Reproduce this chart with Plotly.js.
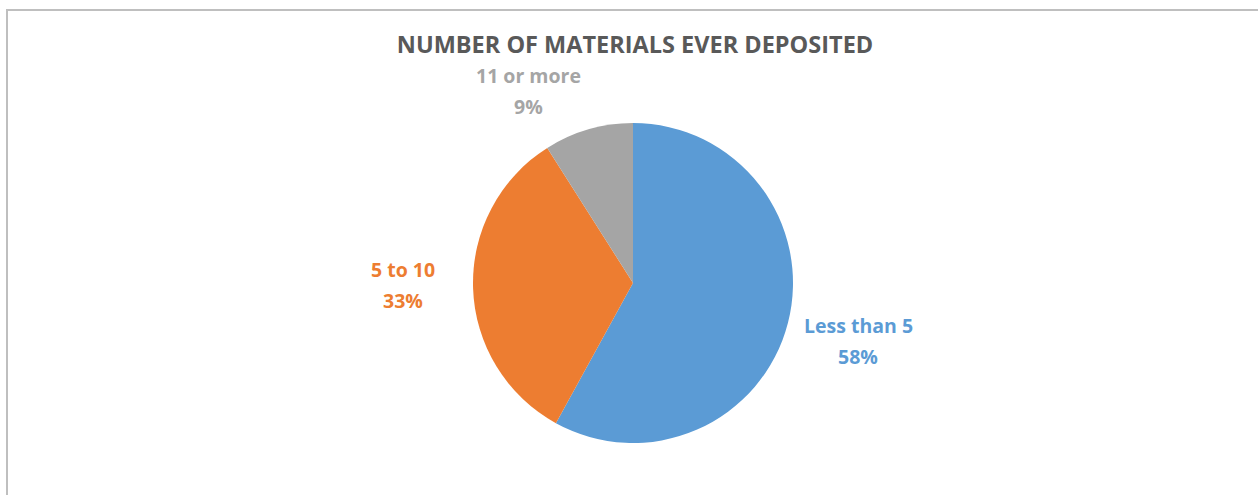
<!DOCTYPE html>
<html>
<head>
<meta charset="utf-8">
<script src="https://cdn.plot.ly/plotly-3.0.1.min.js"></script>
<style>
  html, body { margin: 0; padding: 0; background: #fff; overflow: hidden; }
  #frame { position: absolute; left: 6px; top: 9px; width: 1300px; height: 520px;
           border-left: 2px solid #bfbfbf; border-top: 2px solid #bfbfbf; }
  #chart { position: absolute; left: 0; top: 0; width: 1258px; height: 495px; }
</style>
</head>
<body>
<div id="frame"></div>
<div id="chart"></div>
<script>
const categories = ["Less than 5", "5 to 10", "11 or more"];
const values = [58, 33, 9];
const colors = ["#5B9BD5", "#ED7D31", "#A5A5A5"];
const chartTitle = "NUMBER OF MATERIALS EVER DEPOSITED";

// layout geometry (styling)
const W = 1258, H = 495;
const M = { l: 200, r: 192, t: 123, b: 52 };
const plotW = W - M.l - M.r, plotH = H - M.t - M.b;
const R = Math.min(plotW, plotH) / 2;
const cx = M.l + plotW / 2, cy = M.t + plotH / 2;
const labelDist = 1.44;
const labelNudge = [[2, 0], [0, -6], [-40, 29]];

const total = values.reduce((a, b) => a + b, 0);
const annotations = [];
let cum = 0;
values.forEach((v, i) => {
  const mid = (cum + v / 2) / total * 2 * Math.PI;
  cum += v;
  const px = cx + labelDist * R * Math.sin(mid) + labelNudge[i][0];
  const py = cy - labelDist * R * Math.cos(mid) + labelNudge[i][1];
  const xp = (px - M.l) / plotW;
  const yp = 1 - (py - M.t) / plotH;
  const pct = Math.round(v / total * 100) + "%";
  const font = { family: "Open Sans, sans-serif", size: 19.5, color: colors[i] };
  annotations.push({ xref: "paper", yref: "paper", x: xp, y: yp, text: "<b>" + categories[i] + "</b>",
    showarrow: false, xanchor: "center", yanchor: "middle", yshift: 15, font: font });
  annotations.push({ xref: "paper", yref: "paper", x: xp, y: yp, text: "<b>" + pct + "</b>",
    showarrow: false, xanchor: "center", yanchor: "middle", yshift: -16, font: font });
});

const data = [{
  type: "pie",
  labels: categories,
  values: values,
  marker: { colors: colors, line: { width: 0 } },
  sort: false,
  direction: "clockwise",
  rotation: 0,
  textinfo: "none",
  hoverinfo: "label+percent",
  automargin: false
}];

const layout = {
  width: W, height: H,
  margin: M,
  paper_bgcolor: "rgba(0,0,0,0)",
  plot_bgcolor: "rgba(0,0,0,0)",
  showlegend: false,
  title: {
    text: "<b>" + chartTitle + "</b>",
    x: 635 / W, xanchor: "center",
    y: 1 - 45 / H, yanchor: "middle",
    font: { family: "Open Sans, sans-serif", size: 23.5, color: "#595959" }
  },
  annotations: annotations
};

Plotly.newPlot("chart", data, layout, { displayModeBar: false, staticPlot: true });
</script>
</body>
</html>
